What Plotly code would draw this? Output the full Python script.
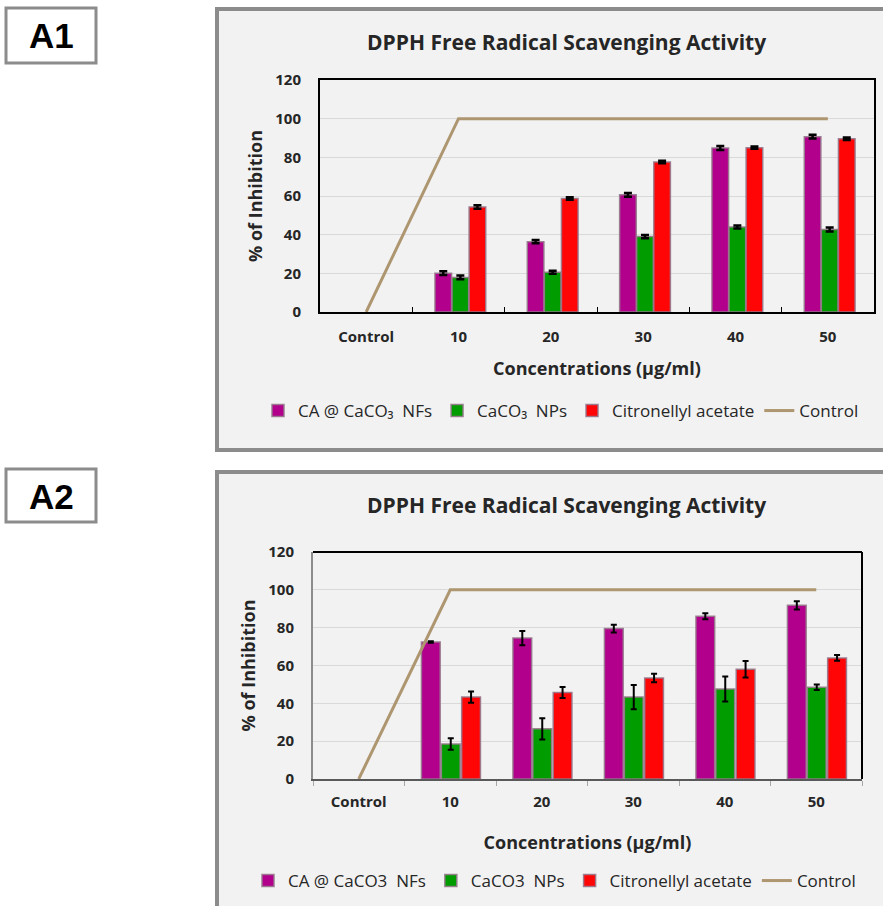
import plotly.graph_objects as go

W, H = 883, 906
def px(x): return x / W
def py(y): return 1 - y / H

categories = ["Control", "10", "20", "30", "40", "50"]
conc = ["10", "20", "30", "40", "50"]

# Panel A1
a1_ca = [20.1, 36.4, 60.6, 84.8, 90.7]
a1_ca_err = [1.0, 0.8, 1.0, 1.0, 1.0]
a1_np = [17.9, 20.6, 39.0, 44.0, 42.7]
a1_np_err = [1.0, 0.8, 0.8, 0.8, 1.0]
a1_cit = [54.3, 58.7, 77.6, 85.0, 89.6]
a1_cit_err = [0.9, 0.6, 0.6, 0.6, 0.6]

# Panel A2
a2_ca = [72.4, 74.5, 79.5, 86.0, 91.8]
a2_ca_err = [0.4, 3.8, 2.0, 1.6, 2.2]
a2_np = [18.5, 26.5, 43.3, 47.6, 48.5]
a2_np_err = [3.0, 5.6, 6.4, 6.6, 1.4]
a2_cit = [43.3, 45.7, 53.4, 58.0, 64.0]
a2_cit_err = [3.0, 2.9, 2.3, 4.4, 1.5]

control_vals = [0, 100, 100, 100, 100, 100]

names_a1 = ["CA @ CaCO₃  NFs", "CaCO₃  NPs", "Citronellyl acetate", "Control"]
names_a2 = ["CA @ CaCO3  NFs", "CaCO3  NPs", "Citronellyl acetate", "Control"]

col_ca = "#b3008c"
col_np = "#009c00"
col_cit = "#ff0505"
col_ctrl = "#ad9670"
edge = "rgba(150,120,140,0.9)"

FONT = "Open Sans"
txt = "#262626"

fig = go.Figure()

def add_panel(xa, ya, leg, names, series, width, offsets, ethick, ewidth):
    for (vals, errs, col), name, off in zip(series, names[:3], offsets):
        fig.add_trace(go.Bar(
            x=conc, y=vals, name=name, xaxis=xa, yaxis=ya, legend=leg,
            width=width, offset=off,
            marker=dict(color=col, line=dict(color=edge, width=1.5)),
            error_y=dict(type="data", array=errs, visible=True,
                         color="black", thickness=ethick, width=ewidth),
        ))
    fig.add_trace(go.Scatter(
        x=categories, y=control_vals, name=names[3], xaxis=xa, yaxis=ya,
        legend=leg, mode="lines", line=dict(color=col_ctrl, width=3),
    ))

add_panel("x", "y", "legend", names_a1,
          [(a1_ca, a1_ca_err, col_ca), (a1_np, a1_np_err, col_np),
           (a1_cit, a1_cit_err, col_cit)],
          0.18, [-0.255, -0.07, 0.115], 2.5, 4)
add_panel("x2", "y2", "legend2", names_a2,
          [(a2_ca, a2_ca_err, col_ca), (a2_np, a2_np_err, col_np),
           (a2_cit, a2_cit_err, col_cit)],
          0.205, [-0.315, -0.097, 0.125], 2, 3)

tickfont = dict(family=FONT, size=15, color=txt, weight="bold")
titlefont = dict(family=FONT, size=18, color=txt, weight="bold")

common_x = dict(type="category", categoryorder="array", categoryarray=categories,
                range=[-0.5, 5.5], tickfont=tickfont, showgrid=False,
                tickson="boundaries", ticklen=5, fixedrange=True)
common_y = dict(range=[0, 120], dtick=20, tickfont=tickfont, showgrid=True,
                gridcolor="#d9d9d9", gridwidth=1, zeroline=False,
                ticks="outside", ticklen=14, tickcolor="rgba(0,0,0,0)",
                fixedrange=True,
                title=dict(text="% of Inhibition", font=titlefont, standoff=8))
xtitle = "Concentrations (μg/ml)"

legfont = dict(family=FONT, size=17, color=txt)

fig.update_layout(
    width=W, height=H, margin=dict(l=0, r=0, t=0, b=0, autoexpand=False),
    paper_bgcolor="white", plot_bgcolor="white",
    barmode="overlay",
    xaxis=dict(common_x, domain=[px(320), px(874)], anchor="y",
               showline=True, linecolor="black", linewidth=2, mirror=True,
               ticks="inside", tickcolor="black", ticklabelstandoff=10,
               title=dict(text=xtitle, font=titlefont, standoff=17)),
    yaxis=dict(common_y, domain=[py(312), py(80)], anchor="x",
               showline=True, linecolor="black", linewidth=2, mirror=True),
    xaxis2=dict(common_x, domain=[px(313), px(862)], anchor="y2",
                showline=True, linecolor="#595959", linewidth=2,
                ticks="outside", tickcolor="#a6a6a6", ticklabelstandoff=8,
                title=dict(text=xtitle, font=titlefont, standoff=26)),
    yaxis2=dict(common_y, domain=[py(779), py(552)], anchor="x2",
                showline=True, linecolor="#8c8c8c", linewidth=2),
    legend=dict(orientation="h", x=px(258), y=py(411), xanchor="left",
                yanchor="middle", bgcolor="rgba(0,0,0,0)",
                font=legfont, itemwidth=30),
    legend2=dict(orientation="h", x=px(248), y=py(881), xanchor="left",
                 yanchor="middle", bgcolor="rgba(0,0,0,0)",
                 font=legfont, itemwidth=30),
    showlegend=True,
)

shapes = [
    dict(type="rect", xref="paper", yref="paper", x0=px(217), x1=px(892),
         y0=py(450), y1=py(9), fillcolor="#f2f2f2",
         line=dict(color="#8c8c8c", width=4), layer="below"),
    dict(type="rect", xref="paper", yref="paper", x0=px(217), x1=px(892),
         y0=py(920), y1=py(472), fillcolor="#f2f2f2",
         line=dict(color="#8c8c8c", width=4), layer="below"),
    dict(type="rect", xref="paper", yref="paper", x0=px(6), x1=px(96),
         y0=py(63), y1=py(8), fillcolor="white",
         line=dict(color="#8c8c8c", width=3), layer="below"),
    dict(type="rect", xref="paper", yref="paper", x0=px(6), x1=px(96),
         y0=py(522), y1=py(469), fillcolor="white",
         line=dict(color="#8c8c8c", width=3), layer="below"),
    dict(type="line", xref="x2 domain", yref="y2 domain", x0=0, x1=1, y0=1, y1=1,
         line=dict(color="black", width=2)),
    dict(type="line", xref="x2 domain", yref="y2 domain", x0=1, x1=1, y0=0, y1=1,
         line=dict(color="black", width=2)),
]
fig.update_layout(shapes=shapes)

ann = [
    dict(text="A1", x=px(51), y=py(36)),
    dict(text="A2", x=px(51), y=py(496)),
]
annotations = [dict(a, xref="paper", yref="paper", showarrow=False,
                    xanchor="center", yanchor="middle",
                    font=dict(family="Liberation Sans", size=35, color="black",
                              weight="bold")) for a in ann]
for yy in (42, 505):
    annotations.append(dict(text="DPPH Free Radical Scavenging Activity",
                            x=px(566), y=py(yy), xref="paper", yref="paper",
                            showarrow=False, xanchor="center", yanchor="middle",
                            font=dict(family=FONT, size=21, color=txt,
                                      weight="bold")))
fig.update_layout(annotations=annotations)

fig.write_html("out.html", config={"displayModeBar": False},
               post_script="document.body.style.margin='0';"
                           "document.body.style.overflow='hidden';")
